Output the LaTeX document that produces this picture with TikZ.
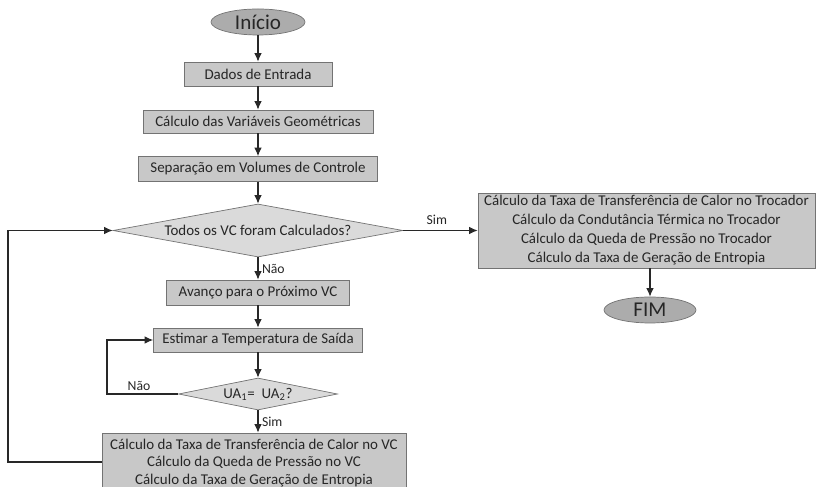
\documentclass[tikz,border=0pt]{standalone}
\usepackage{fontspec}
\setmainfont{Carlito}
\usepackage{xcolor}
\usepackage{tikz}
\usetikzlibrary{shapes.geometric, arrows.meta, positioning, calc}
\definecolor{cBox}{RGB}{200,200,200}
\definecolor{cDiam}{RGB}{218,218,218}
\definecolor{cOval}{RGB}{172,172,172}
\definecolor{cEdge}{RGB}{115,115,115}
\definecolor{cLine}{RGB}{40,40,40}
\tikzset{
	etapa/.style    ={rectangle, draw=cEdge, fill=cBox, inner sep=1pt, align=center, text=black!85},
	teste/.style    ={diamond, draw=cEdge, fill=cDiam, inner sep=0pt, align=center, text=black!85},
	terminal/.style ={ellipse, draw=cEdge, fill=cOval, inner sep=0pt, font=\fontsize{12}{14}\selectfont, text=black!85},
	seta/.style     ={-{Latex[length=1.7mm, width=1.5mm]}, cLine, semithick},
	rotulo/.style   ={font=\fontsize{7.8}{9}\selectfont, text=black!85},
}

\begin{document}
\begin{tikzpicture}[every node/.style={font=\fontsize{8.5}{10}\selectfont}]
	\useasboundingbox (0,0) rectangle (16.32,-9.74);
	% fluxo principal
	\node[terminal, minimum width=1.88cm, minimum height=0.52cm] (inicio) at (5.16,-0.44) {Início};
	\node[etapa, minimum width=2.96cm, minimum height=0.48cm] (dados) at (5.16,-1.48) {Dados de Entrada};
	\node[etapa, minimum width=4.6cm, minimum height=0.46cm] (geom) at (5.16,-2.43) {Cálculo das Variáveis Geométricas};
	\node[etapa, minimum width=4.78cm, minimum height=0.5cm] (separa) at (5.16,-3.38) {Separação em Volumes de Controle};
	\node[teste, aspect=5.47, minimum width=5.8cm, minimum height=1.06cm] (todos) at (5.16,-4.61) {Todos os VC foram Calculados?};
	\node[etapa, minimum width=3.66cm, minimum height=0.5cm] (avanco) at (5.16,-5.85) {Avanço para o Próximo VC};
	\node[etapa, minimum width=4.18cm, minimum height=0.48cm] (estima) at (5.16,-6.8) {Estimar a Temperatura de Saída};
	\node[teste, aspect=5, minimum width=3.18cm, minimum height=0.64cm] (ua) at (5.16,-7.88) {UA\textsubscript{1}=\ \ UA\textsubscript{2}?};
	\node[etapa, minimum width=6.08cm, minimum height=1.2cm] (calcvc) at (5.08,-9.26)
		{Cálculo da Taxa de Transferência de Calor no VC\\ Cálculo da Queda de Pressão no VC\\ Cálculo da Taxa de Geração de Entropia};
	% saida
	\node[etapa, minimum width=6.74cm, minimum height=1.5cm, font=\fontsize{8.5}{10.8}\selectfont] (troca) at (12.93,-4.61)
		{Cálculo da Taxa de Transferência de Calor no Trocador\\ Cálculo da Condutância Térmica no Trocador\\ Cálculo da Queda de Pressão no Trocador\\ Cálculo da Taxa de Geração de Entropia};
	\node[terminal, minimum width=1.84cm, minimum height=0.52cm] (fim) at (13.0,-6.2) {FIM};
	\coordinate (voltaA) at (0.16,-9.24);
	\coordinate (voltaB) at (2.14,-7.88);

	\draw[seta] (inicio) -- (dados);
	\draw[seta] (dados) -- (geom);
	\draw[seta] (geom) -- (separa);
	\draw[seta] (separa) -- (todos);
	\draw[seta] (todos) -- node[rotulo, right, inner sep=2pt] {Não} (avanco);
	\draw[seta] (avanco) -- (estima);
	\draw[seta] (estima) -- (ua);
	\draw[seta] (ua) -- node[rotulo, right, inner sep=2pt] {Sim} (calcvc.north -| ua);
	\draw[seta] (todos.east) -- node[rotulo, above, pos=0.45] {Sim} (troca.west);
	\draw[seta] (troca.south -| fim) -- (fim);
	\draw[seta] (ua.west) -- node[rotulo, above, pos=0.55, inner sep=1.5pt] {Não} (voltaB) |- (estima.west);
	\draw[seta] (calcvc.west |- voltaA) -- (voltaA) |- (todos.west);
\end{tikzpicture}
\end{document}
